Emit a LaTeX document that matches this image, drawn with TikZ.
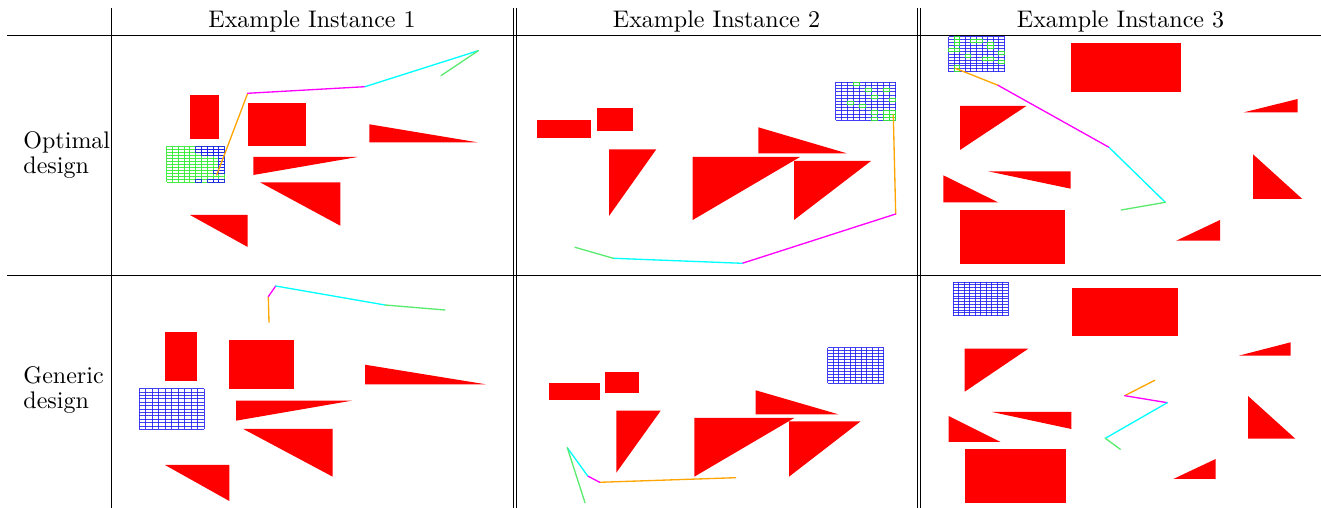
\documentclass[tikz,border=0pt]{standalone}
\usepackage{tikz}
\usetikzlibrary{positioning}

\definecolor{legorange}{RGB}{255,165,0}
\definecolor{legmagenta}{RGB}{255,0,255}
\definecolor{legcyan}{RGB}{0,255,255}
\definecolor{leggreen}{RGB}{90,235,110}
\definecolor{occblue}{RGB}{30,30,240}
\definecolor{occgreen}{RGB}{50,235,50}

% occupancy grid of 10 x 12 cells, drawn in a scaled scope
\newcommand{\occlines}[1]{%
  \foreach \k in {0,...,10} \draw[#1] (\k,0) -- (\k,12);
  \foreach \k in {0,...,12} \draw[#1] (0,\k) -- (10,\k);
}
\newcommand{\occcells}[2]{%
  \foreach \cc/\rr in {#2} \draw[#1] (\cc,\rr) rectangle ++(1,1);
}

\begin{document}
\begin{tikzpicture}[
    x=0.4167pt, y=-0.4167pt,
    rule/.style={line width=0.4pt},
    head/.style={anchor=base, inner sep=0pt, font=\normalsize},
    rowlab/.style={anchor=base west, inner sep=0pt, align=left,
                   font={\fontsize{10}{10.5}\selectfont}},
    obst/.style={fill=red, draw=none},
    occ/.style={draw=occblue, line width=0.35pt, opacity=0.85},
    free/.style={draw=occgreen, line width=0.35pt, opacity=0.9},
    leg/.style={line width=0.55pt, line cap=round}
]
\useasboundingbox (0,0) rectangle (1321,508);

% table rules
\draw[rule] (7,35.5) -- (1321,35.5);
\draw[rule] (7,275.5) -- (1321,275.5);
\draw[rule] (111,8) -- (111,508);
\draw[rule] (513,8) -- (513,508);
\draw[rule] (516.5,8) -- (516.5,508);
\draw[rule] (917,8) -- (917,508);
\draw[rule] (920.5,8) -- (920.5,508);

% headers and row labels
\node[head] (h1) at (312,28) {Example Instance 1};
\node[head] (h2) at (716.5,28) {Example Instance 2};
\node[head] (h3) at (1120.5,28) {Example Instance 3};
\node[rowlab] (r1) at (23,173.3) {Optimal\\design};
\node[rowlab] (r2) at (23,408.5) {Generic\\design};

% ---- optimal design, instance 1
\fill[obst] (190,95.3) rectangle (219,139);
\fill[obst] (248,102.7) rectangle (305.7,146);
\fill[obst] (369.3,124.3) -- (369.3,142.3) -- (477.3,142.3) -- cycle;
\fill[obst] (253.3,157) -- (253.3,175) -- (357.7,157) -- cycle;
\fill[obst] (260,182.3) -- (340.3,182.3) -- (340.3,225.7) -- cycle;
\fill[obst] (190,215) -- (247.7,215) -- (247.7,247) -- cycle;
\begin{scope}[shift={(166.7,146)}, xscale=5.8, yscale=3.03]
  \occlines{free}
  \occcells{occ}{5/0,6/0,7/0,8/0,9/0,5/1,6/1,7/1,8/1,9/1,6/2,7/2,8/2,9/2,
    9/3,9/4,9/5,9/6,9/7,8/8,9/8,5/11,7/11,8/11,9/11}
\end{scope}
\draw[leg, legorange] (216.7,175) -- (247.7,93.3);
\draw[leg, legmagenta] (247.7,93.3) -- (365,86.7);
\draw[leg, legcyan] (365,86.7) -- (478.3,50.7);
\draw[leg, leggreen] (478.3,50.7) -- (441,75.7);

% ---- optimal design, instance 2
\fill[obst] (537.3,119.7) rectangle (591,138.3);
\fill[obst] (597,108.3) rectangle (632.7,130.7);
\fill[obst] (609,149.3) -- (656.3,149.3) -- (609,216) -- cycle;
\fill[obst] (758.3,127.3) -- (758.3,153.3) -- (846.7,153.3) -- cycle;
\fill[obst] (692.7,157) -- (800,157) -- (692.7,220) -- cycle;
\fill[obst] (794,161) -- (871,161) -- (794,220) -- cycle;
\begin{scope}[shift={(835.5,82.3)}, xscale=6.02, yscale=3.17]
  \occlines{occ}
  \occcells{free}{3/0,5/2,6/4,8/2,9/5,2/6,4/7,6/9,8/9,9/9,8/10,9/10,
    6/11,8/11,9/11}
\end{scope}
\draw[leg, legorange] (893.3,115) -- (895.7,214);
\draw[leg, legmagenta] (895.7,214) -- (742.3,263.3);
\draw[leg, legcyan] (742.3,263.3) -- (613.3,258.3);
\draw[leg, leggreen] (613.3,258.3) -- (575,247.3);

% ---- optimal design, instance 3
\fill[obst] (1070.7,43.3) rectangle (1181.3,92);
\fill[obst] (1244,112.3) -- (1297.7,99) -- (1297.7,112.3) -- cycle;
\fill[obst] (960,106) -- (1026.3,106) -- (960,150) -- cycle;
\fill[obst] (988,171.3) -- (1070.7,171.3) -- (1070.7,188.7) -- cycle;
\fill[obst] (943.3,175.3) -- (943.3,202.3) -- (998,202.3) -- cycle;
\fill[obst] (960,209.7) rectangle (1065,264.3);
\fill[obst] (1253,154.3) -- (1253,199) -- (1302.3,199) -- cycle;
\fill[obst] (1176.3,240.7) -- (1220,220) -- (1220,240.7) -- cycle;
\begin{scope}[shift={(948.5,36.7)}, xscale=5.6, yscale=2.92]
  \occlines{occ}
  \occcells{free}{1/0,1/1,1/2,0/4,1/4,4/1,5/1,7/2,7/3,9/5,3/6,6/7,7/7,
    9/8,1/10,1/11}
\end{scope}
\draw[leg, legorange] (955.3,68.3) -- (998,85.3);
\draw[leg, legmagenta] (998,85.3) -- (1109,147.3);
\draw[leg, legcyan] (1109,147.3) -- (1165.3,202.3);
\draw[leg, leggreen] (1165.3,202.3) -- (1121.3,210);

% ---- generic design, instance 1
\fill[obst] (165,332.3) rectangle (197.3,380.7);
\fill[obst] (229.3,340.3) rectangle (294,388.7);
\fill[obst] (365,364.7) -- (365,384.3) -- (485.7,384.3) -- cycle;
\fill[obst] (236,400.7) -- (351.7,400.7) -- (236,420.7) -- cycle;
\fill[obst] (243.3,429) -- (332.7,429) -- (332.7,476.7) -- cycle;
\fill[obst] (165,465) -- (229.3,465) -- (229.3,501) -- cycle;
\begin{scope}[shift={(139.3,388.7)}, xscale=6.47, yscale=3.39]
  \occlines{occ}
\end{scope}
\draw[leg, legorange] (269,322.3) -- (268.3,296.7);
\draw[leg, legmagenta] (268.3,296.7) -- (275.7,286);
\draw[leg, legcyan] (275.7,286) -- (385,305);
\draw[leg, leggreen] (385,305) -- (445,310);

% ---- generic design, instance 2
\fill[obst] (549.3,383) rectangle (599.7,400.3);
\fill[obst] (605,372.3) rectangle (638.7,393.3);
\fill[obst] (616.3,410.7) -- (660.7,410.7) -- (616.3,472.7) -- cycle;
\fill[obst] (755.7,390.3) -- (755.7,414.3) -- (838.3,414.3) -- cycle;
\fill[obst] (694.3,418) -- (794.3,418) -- (694.3,476.7) -- cycle;
\fill[obst] (789,421.3) -- (860.7,421.3) -- (789,476.7) -- cycle;
\begin{scope}[shift={(827.7,347.7)}, xscale=5.6, yscale=2.97]
  \occlines{occ}
\end{scope}
\draw[leg, legorange] (735.7,477.7) -- (599.7,482.3);
\draw[leg, legmagenta] (599.7,482.3) -- (587.7,476);
\draw[leg, legcyan] (587.7,476) -- (567.3,447.7);
\draw[leg, leggreen] (567.3,447.7) -- (585,502.7);

% ---- generic design, instance 3
\fill[obst] (1071.7,288.3) rectangle (1178.3,335.7);
\fill[obst] (1238.7,355.7) -- (1290.7,342.3) -- (1290.7,355.7) -- cycle;
\fill[obst] (964.7,348.7) -- (1028.3,348.7) -- (964.7,391.7) -- cycle;
\fill[obst] (992,412) -- (1071.3,412) -- (1071.3,429) -- cycle;
\fill[obst] (948.7,416) -- (948.7,442) -- (1000.7,442) -- cycle;
\fill[obst] (964.7,449.3) rectangle (1066,502.7);
\fill[obst] (1248,396) -- (1248,438.7) -- (1295.3,438.7) -- cycle;
\fill[obst] (1173.3,479) -- (1215.7,459) -- (1215.7,479) -- cycle;
\begin{scope}[shift={(953.3,282)}, xscale=5.47, yscale=2.81]
  \occlines{occ}
\end{scope}
\draw[leg, legorange] (1154.7,380.3) -- (1124.7,395.7);
\draw[leg, legmagenta] (1124.7,395.7) -- (1167.3,402.7);
\draw[leg, legcyan] (1167.3,402.7) -- (1105.3,438.3);
\draw[leg, leggreen] (1105.3,438.3) -- (1120.3,449.3);
\end{tikzpicture}
\end{document}
